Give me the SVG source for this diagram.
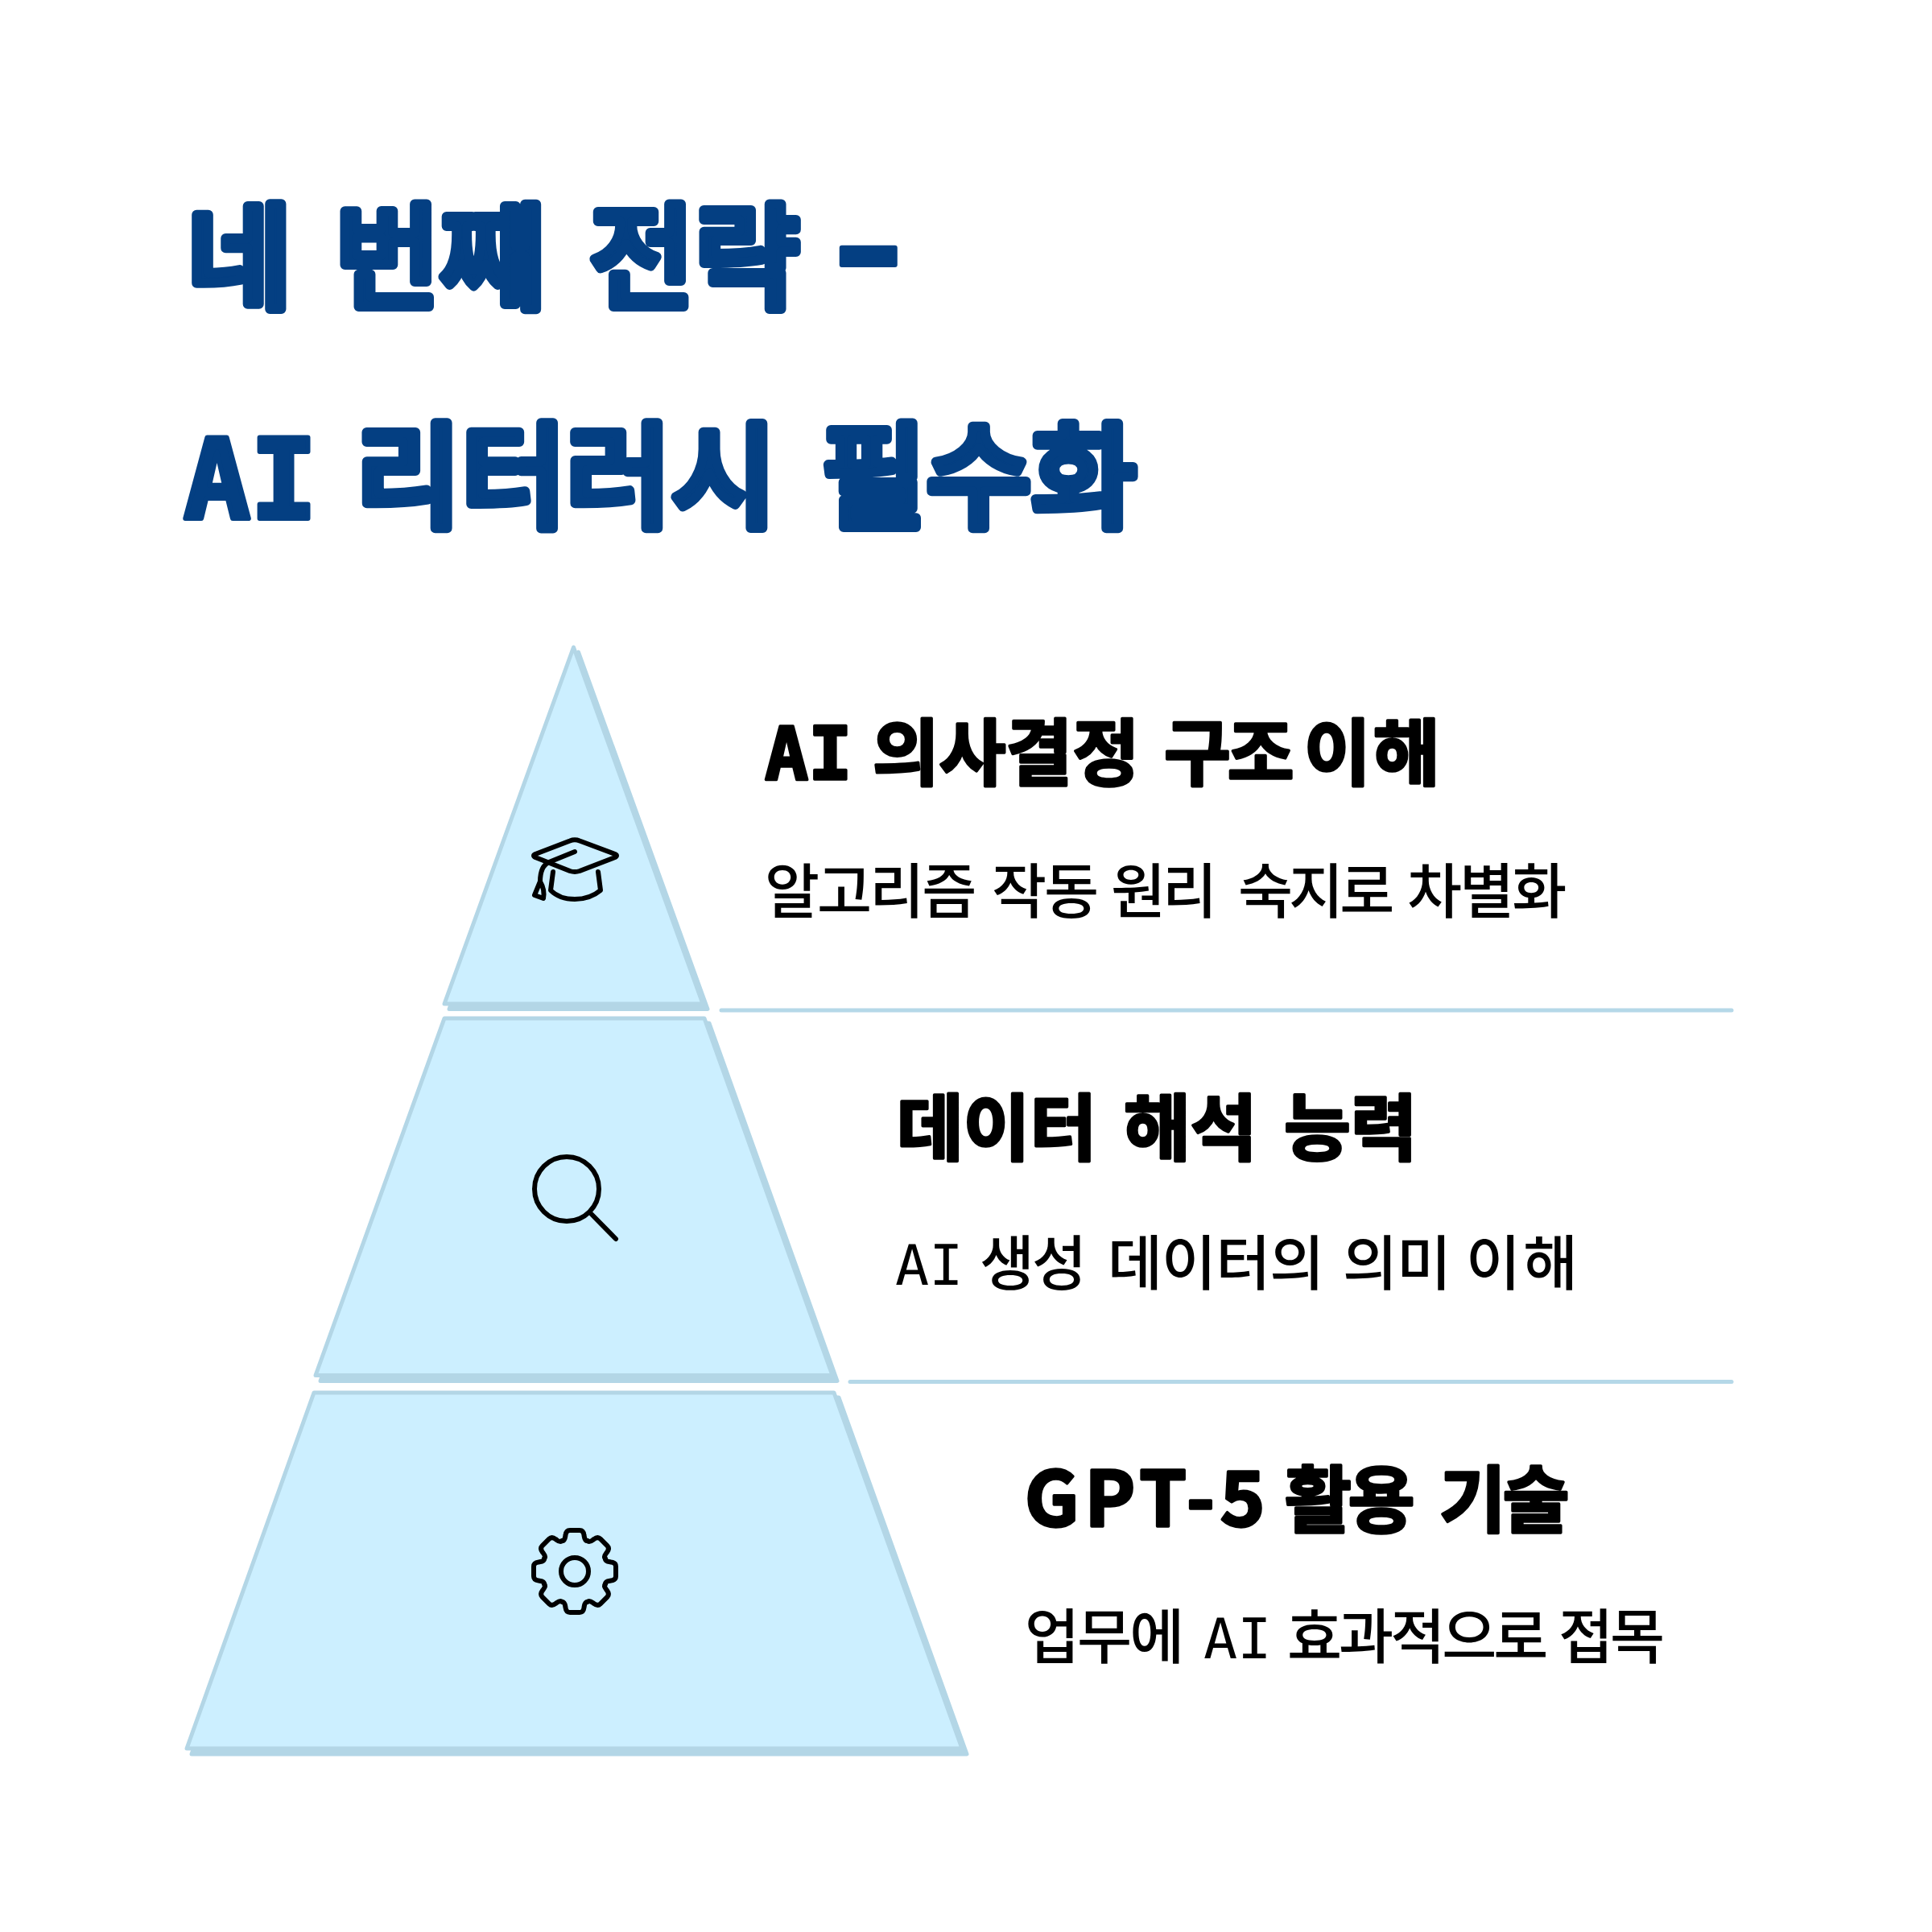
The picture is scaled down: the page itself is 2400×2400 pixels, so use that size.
<svg xmlns="http://www.w3.org/2000/svg" width="2400" height="2400" viewBox="0 0 2400 2400">
<style>
text{font-family:"Noto Sans CJK KR","Noto Sans",sans-serif}
.title{font-size:142px;font-weight:500;fill:#043f82;stroke:#043f82;stroke-width:12;stroke-linejoin:round}
.head{font-size:90px;font-weight:700;fill:#000;stroke:#000;stroke-width:3.500;stroke-linejoin:round}
.body{font-size:74px;font-weight:500;fill:#000;letter-spacing:-3px}
.lat{font-family:"DejaVu Sans Mono","Noto Sans CJK KR",monospace;letter-spacing:0}
.tight{letter-spacing:-4px}
.wide{letter-spacing:3px}
.shadow{fill:#b3d6e6;stroke:#b3d6e6;stroke-width:5;stroke-linejoin:round}
.tier{fill:#ccefff;stroke:#b3d6e6;stroke-width:5;stroke-linejoin:round}
.sep{stroke:#b5d8e8;stroke-width:5;stroke-linecap:round;fill:none}
.icon{fill:none;stroke:#000;stroke-width:6;stroke-linecap:round;stroke-linejoin:round}
</style>
<defs>
<path id="tooth" d="M-15.7-37.9C-12-38-12-42-11.5-45C-11-49-9-51-6-51L6-51C9-51 11-49 11.5-45C12-42 12-38 15.7-37.9"/>
</defs>
<rect width="2400" height="2400" fill="#fff"/>
<g id="title">
<text class="title" y="372"><tspan x="232">네</tspan> <tspan x="416">번째</tspan> <tspan x="732">전략</tspan> <tspan x="1034" y="389" style="font-size:250px;font-weight:500;stroke-width:6">-</tspan></text>
<text class="title" y="644"><tspan x="228" class="lat" style="font-weight:700;stroke-width:6;font-size:138px">AI</tspan> <tspan x="442">리터러시</tspan> <tspan x="1020">필수화</tspan></text>
</g>
<g id="tier-1">
<polygon class="shadow" points="718.500,810 879,1253.500 558,1253.500"/>
<polygon class="tier" points="712.500,804 873,1247 552,1247"/>
<path class="icon" stroke-width="4.500" d="M708 1044.500Q714 1042 720 1044.500L764 1061Q768 1063 764 1065L720 1082Q714 1084 708 1082L665 1065Q661 1063 665 1061Z"/>
<path class="icon" d="M714 1058L682 1071Q671 1076 671 1095L664 1112L675 1116Q677 1105 671 1095"/>
<path class="icon" d="M687 1083L684 1106Q695 1117 714 1117Q733 1117 746 1106L743 1083"/>
</g>
<g id="tier-2">
<polygon class="shadow" points="558,1271 881,1271 1040,1715.500 398,1715.500"/>
<polygon class="tier" points="552,1265 875,1265 1034,1708.500 392,1708.500"/>
<g class="icon"><circle cx="704" cy="1477" r="40"/><path d="M735 1508.500L765 1539"/></g>
</g>
<g id="tier-3">
<polygon class="shadow" points="396,1736 1042,1736 1201,2179 238,2179"/>
<polygon class="tier" points="390,1730 1036,1730 1195,2172 232,2172"/>
<g class="icon" transform="translate(714 1952)">
<circle r="17"/>
<use href="#tooth"/><use href="#tooth" transform="rotate(45)"/><use href="#tooth" transform="rotate(90)"/><use href="#tooth" transform="rotate(135)"/><use href="#tooth" transform="rotate(180)"/><use href="#tooth" transform="rotate(225)"/><use href="#tooth" transform="rotate(270)"/><use href="#tooth" transform="rotate(315)"/>
</g>
</g>
<g id="connectors">
<path class="sep" d="M896 1255H2151"/>
<path class="sep" d="M1056 1716.500H2151"/>
</g>
<g id="label-1">
<text class="head" y="968"><tspan x="950" class="lat">AI</tspan> <tspan x="1084">의사결정</tspan> <tspan x="1446" class="tight">구조</tspan> <tspan x="1620" class="wide">이해</tspan></text>
<text class="body" y="1134"><tspan x="950">알고리즘</tspan> <tspan x="1232">작동</tspan> <tspan x="1380" class="tight">원리</tspan> <tspan x="1538" style="letter-spacing:-5px">숙지로</tspan> <tspan x="1748">차별화</tspan></text>
</g>
<g id="label-2">
<text class="head" y="1434"><tspan x="1114">데이터</tspan> <tspan x="1396">해석</tspan> <tspan x="1595">능력</tspan></text>
<text class="body" y="1596"><tspan x="1112" class="lat" style="font-size:70px;font-weight:400">AI</tspan> <tspan x="1217">생성</tspan> <tspan x="1376" style="letter-spacing:-1px">데이터의</tspan> <tspan x="1668" style="letter-spacing:-1px">의미</tspan> <tspan x="1821" class="wide">이해</tspan></text>
</g>
<g id="label-3">
<text class="head" y="1896"><tspan x="1273" style="font-size:94px;letter-spacing:7px">GPT-5</tspan> <tspan x="1596" class="tight">활용</tspan> <tspan x="1788" class="tight">기술</tspan></text>
<text class="body" y="2060"><tspan x="1273">업무에</tspan> <tspan x="1495" class="lat" style="font-size:70px;font-weight:400">AI</tspan> <tspan x="1599" class="tight">효과적으로</tspan> <tspan x="1936" class="tight">접목</tspan></text>
</g>
</svg>
